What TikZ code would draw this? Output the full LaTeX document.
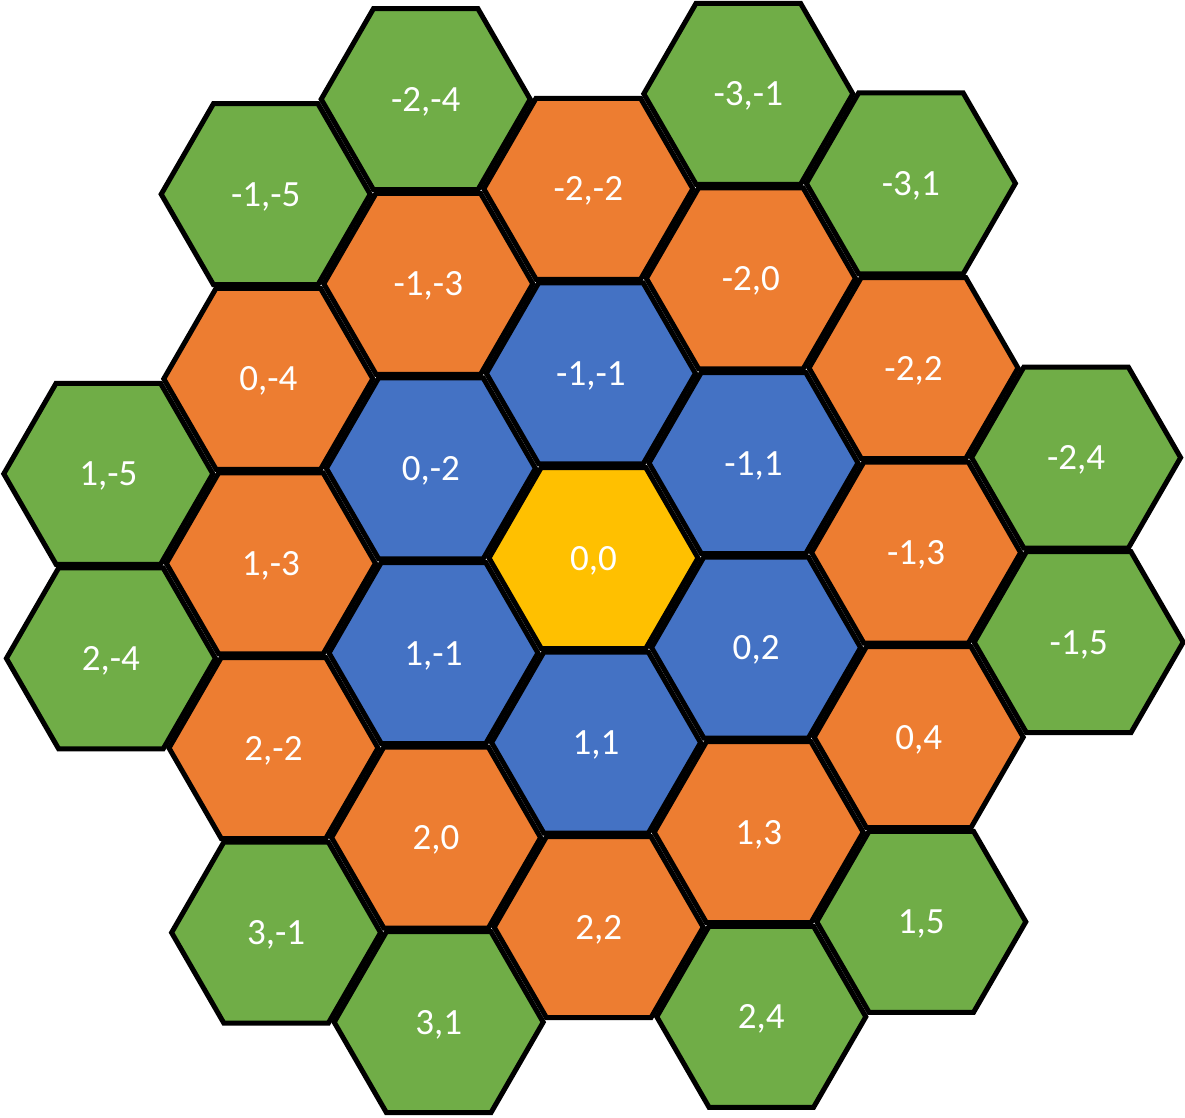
\documentclass[tikz,border=0pt]{standalone}
\usepackage{fontspec}
\setmainfont{Carlito}
\definecolor{hgreen}{HTML}{70AD47}
\definecolor{horange}{HTML}{ED7D31}
\definecolor{hblue}{HTML}{4472C4}
\definecolor{hyellow}{HTML}{FFC000}
\tikzset{
  hexcell/.style={draw=black, line width=5pt, line join=miter},
  hexlabel/.style={text=white, inner sep=0pt, anchor=base, font=\fontsize{37}{44}\selectfont}
}
\begin{document}
\begin{tikzpicture}[x=1pt,y=-1pt]
\useasboundingbox (0,0) rectangle (1185,1118);
\foreach \a/\b/\col [count=\i] in {
  -2/-4/hgreen, -3/-1/hgreen, -1/-5/hgreen, -3/1/hgreen,
  1/-5/hgreen, -2/4/hgreen, 2/-4/hgreen, -1/5/hgreen,
  3/-1/hgreen, 1/5/hgreen, 3/1/hgreen, 2/4/hgreen,
  -2/-2/horange, -1/-3/horange, -2/0/horange, 0/-4/horange,
  -2/2/horange, 1/-3/horange, -1/3/horange, 2/-2/horange,
  0/4/horange, 2/0/horange, 1/3/horange, 2/2/horange,
  -1/-1/hblue, 0/-2/hblue, -1/1/hblue, 1/-1/hblue,
  0/2/hblue, 1/1/hblue, 0/0/hyellow}
{
  \pgfmathsetmacro\q{(\b-\a)/2}
  \pgfmathsetmacro\s{(\a+\b)/2}
  \pgfmathsetmacro\px{593.5+160*\q+2.6*\s}
  \pgfmathsetmacro\py{558+184.6*\s-95*\q}
  \filldraw[hexcell, fill=\col] (\px,\py) +(0:104.5) -- +(60:104.5) -- +(120:104.5) -- +(180:104.5) -- +(240:104.5) -- +(300:104.5) -- cycle;
  \node[hexlabel] (h\i) at (\px,\py+12) {\a,\b};
}
\end{tikzpicture}
\end{document}
